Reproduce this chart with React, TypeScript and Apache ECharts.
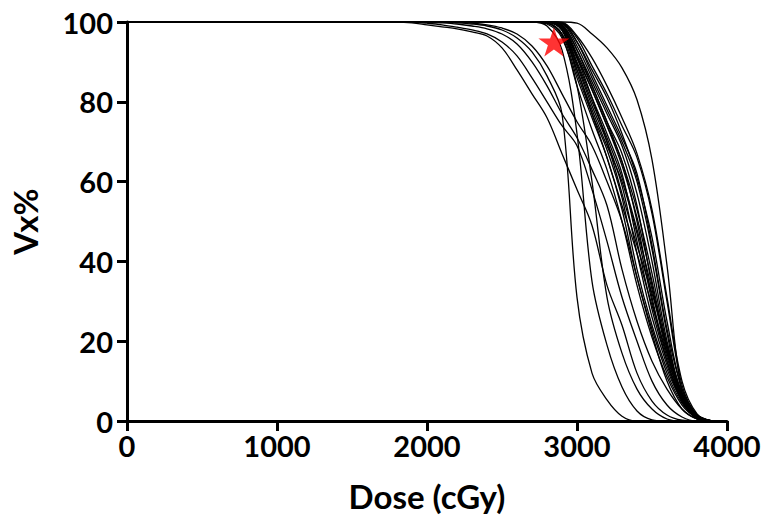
import React, { useEffect, useRef } from "react";
import * as echarts from "echarts";

const DOSES = [1800, 1900, 2000, 2100, 2200, 2300, 2400, 2500, 2600, 2700, 2800, 2900, 3000, 3100, 3200, 3300, 3400, 3500, 3600, 3700, 3800, 3900];

// early, gently falling curves
const E1 = [100, 99.8, 99.3, 98.8, 98.3, 97.5, 96.5, 93.5, 88, 82, 76, 67, 58, 49, 34, 24, 12, 5, 1.5, 0.2, 0, 0];
const E2 = [100, 100, 99.7, 99.3, 98.7, 98, 97, 95, 91.5, 86, 80, 74, 69, 58, 45, 31, 20, 10, 4, 1, 0, 0];
const E3 = [100, 100, 100, 99.8, 99.5, 99, 98.3, 97, 94.5, 90, 84, 77, 71, 63, 54, 38, 25, 15, 8, 3, 0.5, 0];
const E4 = [100, 100, 100, 100, 100, 99.7, 99.3, 98.5, 97, 94, 89, 82, 75, 69, 60, 50, 36, 22, 10, 3, 0.5, 0];
// steep early curves
const S1 = [100, 100, 100, 100, 99.8, 99.5, 99, 98, 96, 92.5, 86.5, 77, 31, 12, 5.3, 1.2, 0, 0, 0, 0, 0, 0];
const M1 = [100, 100, 100, 100, 100, 100, 100, 100, 100, 100, 99, 93, 72, 35, 19, 8.5, 2.5, 0.3, 0, 0, 0, 0];
const M2 = [100, 100, 100, 100, 100, 100, 100, 100, 100, 100, 99.5, 96, 84, 60, 31, 17, 8, 3, 0.5, 0, 0, 0];
// main bundle
const K1 = [100, 100, 100, 100, 100, 100, 100, 100, 100, 100, 99.7, 96.5, 84, 73, 63, 50, 34, 21, 11, 4, 0.8, 0];
const K9 = [100, 100, 100, 100, 100, 100, 100, 100, 100, 100, 99.8, 97, 86, 76, 66, 53, 36, 23, 12, 4.5, 0.8, 0];
const K2 = [100, 100, 100, 100, 100, 100, 100, 100, 100, 100, 100, 98, 87, 77, 68, 56, 38, 24, 13, 5, 1, 0];
const K7 = [100, 100, 100, 100, 100, 100, 100, 100, 100, 100, 100, 98, 89, 79, 70, 59, 42, 26, 14, 5, 1, 0];
const K11 = [100, 100, 100, 100, 100, 100, 100, 100, 100, 100, 100, 98, 88, 78, 69, 60, 47, 30, 15, 5, 1, 0];
const K3 = [100, 100, 100, 100, 100, 100, 100, 100, 100, 100, 100, 98.5, 90, 81, 72, 62, 45, 28, 15, 5.5, 1, 0];
const K8 = [100, 100, 100, 100, 100, 100, 100, 100, 100, 100, 100, 99, 91, 83, 74, 65, 50, 31, 16, 6, 1, 0];
const K4 = [100, 100, 100, 100, 100, 100, 100, 100, 100, 100, 100, 99.2, 92, 84, 75, 67, 54, 34, 18, 6.5, 1.2, 0];
const K12 = [100, 100, 100, 100, 100, 100, 100, 100, 100, 100, 100, 99.6, 94, 86, 78, 70, 60, 43, 22, 6, 1, 0];
const K10 = [100, 100, 100, 100, 100, 100, 100, 100, 100, 100, 100, 99.3, 93, 85, 77, 69, 57, 40, 20, 7, 1.2, 0];
const K5 = [100, 100, 100, 100, 100, 100, 100, 100, 100, 100, 100, 99.7, 95, 87, 79, 71, 62, 44, 23, 8, 1.5, 0];
const K6 = [100, 100, 100, 100, 100, 100, 100, 100, 100, 100, 100, 99.8, 96, 89, 82, 74, 66, 52, 30, 9, 1.5, 0];
const K13 = [100, 100, 100, 100, 100, 100, 100, 100, 100, 100, 99.8, 97, 88, 77, 66, 54, 42, 29, 17, 7, 1.5, 0];
const K14 = [100, 100, 100, 100, 100, 100, 100, 100, 100, 100, 100, 98.5, 91, 81, 70, 57, 44, 32, 19, 7, 1.2, 0];
const K15 = [100, 100, 100, 100, 100, 100, 100, 100, 100, 100, 100, 99.3, 93, 84, 75, 65, 53, 37, 19, 6, 1, 0];
const K16 = [100, 100, 100, 100, 100, 100, 100, 100, 100, 100, 100, 99.7, 95, 88, 81, 72, 61, 46, 25, 8, 1.5, 0];
const K17 = [100, 100, 100, 100, 100, 100, 100, 100, 100, 100, 100, 98.8, 91.5, 83, 74, 64, 51, 35, 18, 6, 1, 0];
const K18 = [100, 100, 100, 100, 100, 100, 100, 100, 100, 100, 100, 99.9, 96.5, 91, 84, 76, 67, 53, 31, 10, 1.8, 0];
const K19 = [100, 100, 100, 100, 100, 100, 100, 100, 100, 100, 99.9, 98, 89.5, 80, 71, 61, 48, 33, 17, 5.5, 1, 0];
const R1 = [100, 100, 100, 100, 100, 100, 100, 100, 100, 100, 100, 100, 99.7, 97, 93.5, 88.5, 80.5, 65.5, 39, 7, 0.5, 0];

const curves = [E1, E2, E3, E4, S1, M1, M2, K1, K9, K2, K7, K11, K3, K8, K4, K12, K10, K5, K6, K13, K14, K15, K16, K17, K18, K19, R1];

const starPoint = [[2846, 95]];

const X_MIN = 0;
const X_MAX = 4000;
const Y_MIN = 0;
const Y_MAX = 100;

const STAR = "path://M50,0 L61.8,35.3 L98.9,35.3 L68.9,57.1 L80.3,92.4 L50,70.6 L19.7,92.4 L31.1,57.1 L1.1,35.3 L38.2,35.3 Z";

export default function App() {
  const ref = useRef<HTMLDivElement>(null);
  useEffect(() => {
    if (!ref.current) return;
    const chart = echarts.init(ref.current, undefined, { renderer: "svg" });
    const font = { fontFamily: "Lato", fontWeight: "bold" as const, color: "#000" };
    chart.setOption({
      animation: false,
      backgroundColor: "#fff",
      grid: { left: 124, right: 40, top: 22, bottom: 98 },
      xAxis: {
        type: "value",
        min: X_MIN,
        max: X_MAX,
        interval: 1000,
        name: "Dose (cGy)",
        nameLocation: "middle",
        nameGap: 58,
        nameTextStyle: { ...font, fontSize: 33 },
        axisLine: { lineStyle: { color: "#000", width: 3 } },
        axisTick: { length: 10, lineStyle: { color: "#000", width: 3 } },
        axisLabel: { ...font, fontSize: 29, margin: 10, formatter: (v: number) => String(v) },
        splitLine: { show: false },
      },
      yAxis: {
        type: "value",
        min: Y_MIN,
        max: Y_MAX,
        interval: 20,
        name: "Vx%",
        nameLocation: "middle",
        nameGap: 86,
        nameTextStyle: { ...font, fontSize: 33 },
        axisLine: { lineStyle: { color: "#000", width: 3 } },
        axisTick: { length: 10, lineStyle: { color: "#000", width: 3 } },
        axisLabel: { ...font, fontSize: 29, margin: 14 },
        splitLine: { show: false },
      },
      series: [
        ...curves.map((vals, i) => ({
          type: "line",
          name: "c" + i,
          data: [[0, 100], ...DOSES.map((d, j) => [d, vals[j]])],
          smooth: 0.35,
          showSymbol: false,
          symbol: "none",
          clip: false,
          lineStyle: { color: "#000", width: 1.3 },
          z: 2,
        })),
        {
          type: "scatter",
          data: starPoint,
          symbol: STAR,
          symbolSize: [31, 29],
          itemStyle: { color: "#ff0000" },
          z: 5,
        },
      ],
    });
    return () => chart.dispose();
  }, []);
  return <div ref={ref} style={{ width: 767, height: 519, position: "absolute", left: 0, top: 0 }} />;
}
